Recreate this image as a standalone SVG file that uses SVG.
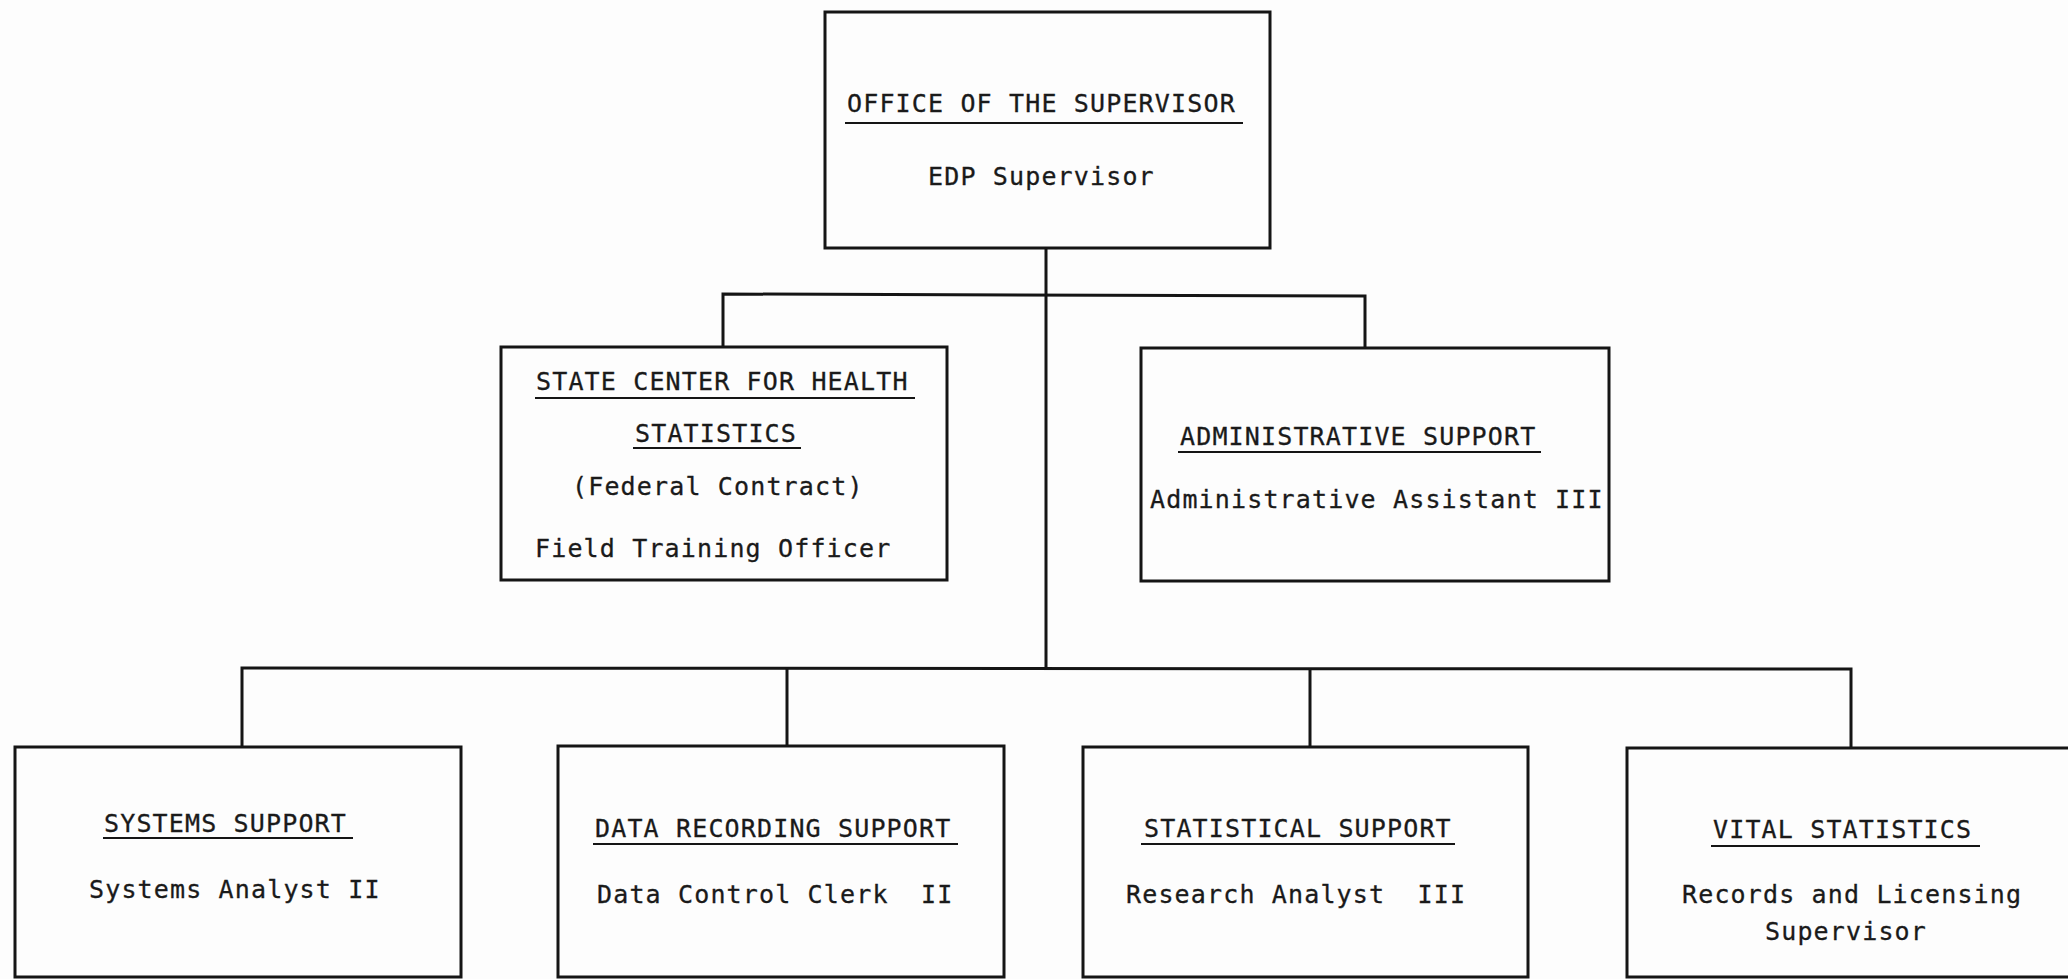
<svg xmlns="http://www.w3.org/2000/svg" width="2068" height="979" viewBox="0 0 2068 979">
<style>
.box{fill:none;stroke:#151515;stroke-width:3}
.con{fill:none;stroke:#151515;stroke-width:3}
.ul{stroke:#151515;stroke-width:2.2}
text{font-family:"DejaVu Sans Mono","Liberation Mono",monospace;font-size:25px;letter-spacing:1.15px;fill:#1a1a1a;stroke:#1a1a1a;stroke-width:0.3;white-space:pre}
</style>
<rect width="2068" height="979" fill="#fdfdfd"/>
<g id="connectors">
<polyline class="con" points="1046,248 1046,668"/>
<polyline class="con" points="723,347 723,294 1365,296 1365,348"/>
<polyline class="con" points="242,747 242,668 1851,669 1851,748"/>
<line class="con" x1="787" y1="668" x2="787" y2="746"/>
<line class="con" x1="1310" y1="668" x2="1310" y2="747"/>
</g>
<g id="office">
<rect class="box" x="825" y="12" width="445" height="236"/>
<text x="847" y="112">OFFICE OF THE SUPERVISOR</text>
<line class="ul" x1="845" y1="123" x2="1243" y2="123"/>
<text x="928" y="185">EDP Supervisor</text>
</g>
<g id="state-center">
<rect class="box" x="501" y="347" width="446" height="233"/>
<text x="536" y="390">STATE CENTER FOR HEALTH</text>
<line class="ul" x1="535" y1="398" x2="915" y2="398"/>
<text x="635" y="442">STATISTICS</text>
<line class="ul" x1="633" y1="448" x2="801" y2="448"/>
<text x="572" y="495">(Federal Contract)</text>
<text x="535" y="557">Field Training Officer</text>
</g>
<g id="admin-support">
<rect class="box" x="1141" y="348" width="468" height="233"/>
<text x="1180" y="445">ADMINISTRATIVE SUPPORT</text>
<line class="ul" x1="1178" y1="452" x2="1541" y2="452"/>
<text x="1150" y="508">Administrative Assistant III</text>
</g>
<g id="systems-support">
<rect class="box" x="15" y="747" width="446" height="230"/>
<text x="104" y="832">SYSTEMS SUPPORT</text>
<line class="ul" x1="103" y1="838" x2="353" y2="838"/>
<text x="89" y="898">Systems Analyst II</text>
</g>
<g id="data-recording">
<rect class="box" x="558" y="746" width="446" height="231"/>
<text x="595" y="837">DATA RECORDING SUPPORT</text>
<line class="ul" x1="593" y1="844" x2="958" y2="844"/>
<text x="597" y="903">Data Control Clerk  II</text>
</g>
<g id="statistical-support">
<rect class="box" x="1083" y="747" width="445" height="230"/>
<text x="1144" y="837">STATISTICAL SUPPORT</text>
<line class="ul" x1="1141" y1="844" x2="1455" y2="844"/>
<text x="1126" y="903">Research Analyst  III</text>
</g>
<g id="vital-statistics">
<rect class="box" x="1627" y="748" width="448" height="229"/>
<text x="1713" y="838">VITAL STATISTICS</text>
<line class="ul" x1="1711" y1="846" x2="1980" y2="846"/>
<text x="1682" y="903">Records and Licensing</text>
<text x="1765" y="940">Supervisor</text>
</g>
</svg>
